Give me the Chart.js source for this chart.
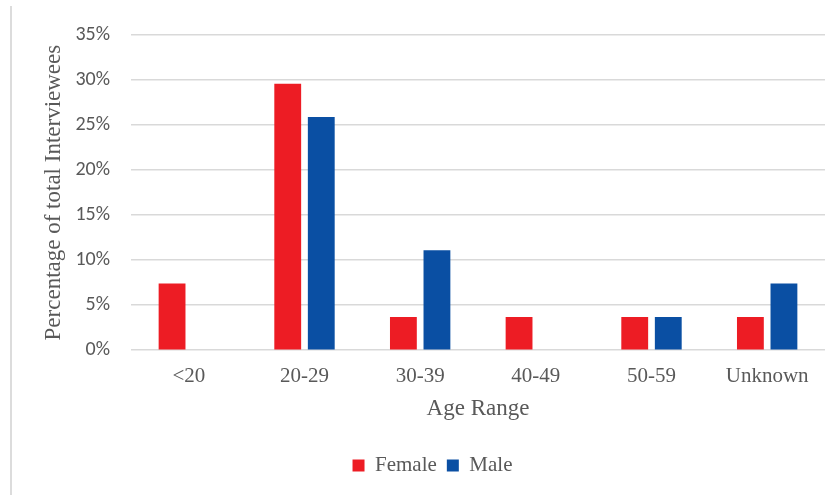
<!DOCTYPE html>
<html>
<head>
<meta charset="utf-8">
<script src="https://cdn.jsdelivr.net/npm/chart.js@4.4.1/dist/chart.umd.min.js"></script>
<style>
  html, body { margin: 0; padding: 0; background: #fff; }
  #wrap { position: relative; width: 840px; height: 495px; }
  #edge { position: absolute; left: 10px; top: 6px; width: 2px; height: 489px; background: #dcdcdc; }
</style>
</head>
<body>
<div id="wrap">
  <div id="edge"></div>
  <canvas id="bars" width="840" height="495"></canvas>
</div>
<script>
const ageRanges = ['<20', '20-29', '30-39', '40-49', '50-59', 'Unknown']
const female = [7.4, 29.6, 3.7, 3.7, 3.7, 3.7]
const male = [0, 25.9, 11.1, 0, 3.7, 7.4]
const yTicks = [0, 5, 10, 15, 20, 25, 30, 35]

const serif = '"Liberation Serif", "Times New Roman", serif'
const sans = 'Carlito, Lato, "Open Sans", sans-serif'
const grey = '#595959'

const ctx = document.getElementById('bars')

new Chart(ctx, {
  type: 'bar',
  data: {
    labels: ageRanges,
    datasets: [{
      label: 'Female',
      data: female,
      backgroundColor: '#ED1C24',
      categoryPercentage: 0.58,
      barPercentage: 0.8
    }, {
      label: 'Male',
      data: male,
      backgroundColor: '#0A4FA3',
      categoryPercentage: 0.58,
      barPercentage: 0.8
    }]
  },
  options: {
    responsive: false,
    animation: false,
    layout: {
      padding: { top: 35, right: 15, bottom: 9, left: 40 }
    },
    plugins: {
      tooltip: { enabled: false },
      legend: {
        position: 'bottom',
        labels: {
          color: grey,
          font: { family: serif, size: 21 },
          boxWidth: 12,
          boxHeight: 12,
          padding: 10
        }
      }
    },
    scales: {
      x: {
        grid: { display: false, drawTicks: false },
        border: { display: false },
        ticks: {
          color: grey,
          font: { family: serif, size: 21 },
          padding: 14
        },
        title: {
          display: true,
          text: 'Age Range',
          color: grey,
          font: { family: serif, size: 23 },
          padding: { top: -8, bottom: 22 }
        }
      },
      y: {
        min: 0,
        max: 35,
        afterBuildTicks: scale => {
          scale.ticks = yTicks.map(v => ({ value: v }))
        },
        afterFit: scale => {
          scale.width = 91
        },
        grid: { color: '#d9d9d9', lineWidth: 1.5, drawTicks: false },
        border: { display: false },
        ticks: {
          color: grey,
          font: { family: sans, size: 20 },
          padding: 21,
          callback: v => v + '%'
        },
        title: {
          display: true,
          text: 'Percentage of total Interviewees',
          color: grey,
          font: { family: serif, size: 23 },
          padding: { top: 0, bottom: 6 }
        }
      }
    }
  }
})
</script>
</body>
</html>
